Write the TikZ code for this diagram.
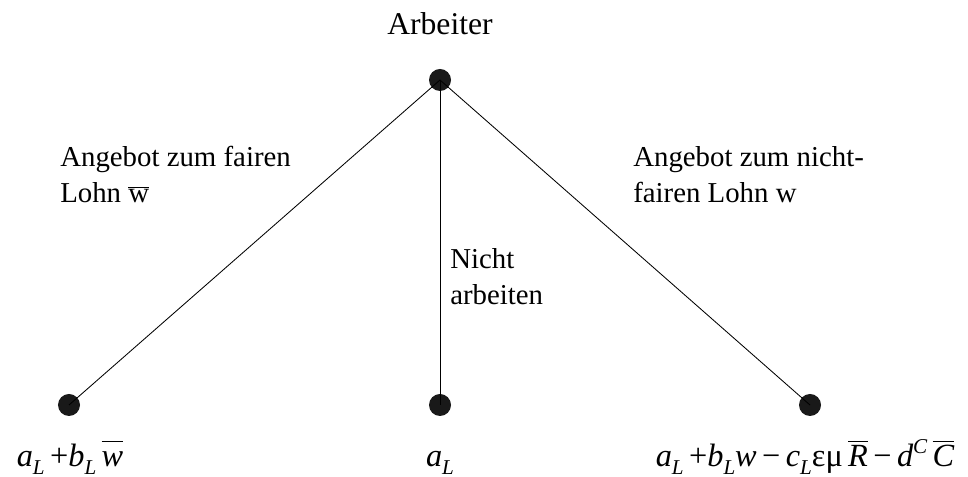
\documentclass[tikz,border=0pt]{standalone}
\usepackage{fontspec}
\setmainfont{Liberation Serif}
\usetikzlibrary{positioning}
\tikzset{
  dot/.style={circle, fill=black!90, inner sep=0pt, minimum size=0.55cm},
  lbl/.style={align=left, inner sep=0pt, anchor=north west, font=\fontsize{20.5}{25.5}\selectfont},
  payoff/.style={inner sep=0pt, anchor=base, font=\fontsize{23}{27}\selectfont},
  branch/.style={draw=black, line width=0.6pt}
}
\newcommand{\lo}[1]{\raisebox{-0.22em}{\fontsize{15}{15}\selectfont\itshape #1}}
\newcommand{\up}[1]{\raisebox{0.42em}{\fontsize{15}{15}\selectfont\itshape #1}}
\newcommand{\hibar}[1]{$\overline{\vphantom{R}\mbox{\itshape #1}}$}

\begin{document}
\begin{tikzpicture}[x=0.025cm, y=-0.025cm]
  \useasboundingbox (0,0) rectangle (968,477);

  \node[dot] (worker) at (440,80) {};
  \node[dot] (fair) at (69,405) {};
  \node[dot] (none) at (440,405) {};
  \node[dot] (unfair) at (810,405) {};

  \node[payoff, font=\fontsize{22.5}{27}\selectfont] (title) at (440,35) {Arbeiter};
  \node[lbl] (fairlbl) at (60,146) {Angebot zum fairen\\Lohn $\overline{\mbox{w}}$};
  \node[lbl] (nonelbl) at (450,248) {Nicht\\arbeiten};
  \node[lbl] (unfairlbl) at (633,146) {Angebot zum nicht-\\fairen Lohn w};

  \node[payoff] (fairpay) at (70,467) {\itshape a\lo{L}\,\upshape+\itshape b\lo{L}\,\hibar{w}};
  \node[payoff] (nonepay) at (440,467) {\itshape a\lo{L}};
  \node[payoff] (unfairpay) at (805,467) {\itshape a\lo{L}\,\upshape+\itshape b\lo{L}w\,\upshape−\,\itshape c\lo{L}\upshape εμ\,\hibar{R}\,\upshape−\,\itshape d\up{C}\,\hibar{C}};

  \draw[branch] (worker.center) -- (fair.center);
  \draw[branch] (worker.center) -- (none.center);
  \draw[branch] (worker.center) -- (unfair.center);
\end{tikzpicture}
\end{document}
